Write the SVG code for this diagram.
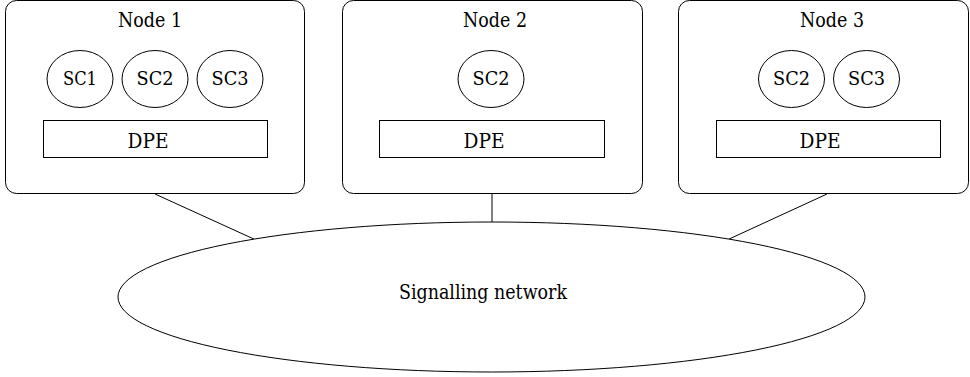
<svg xmlns="http://www.w3.org/2000/svg" width="970" height="377" viewBox="0 0 970 377">
<style>
.box{fill:#fff;stroke:#000;stroke-width:1}
.sc{fill:#fff;stroke:#000;stroke-width:1}
.dpe{fill:#fff;stroke:#000;stroke-width:1}
.con{stroke:#000;stroke-width:1;fill:none}
</style>
<rect x="0" y="0" width="970" height="377" fill="#fff"/>
<g id="connectors">
<line class="con" x1="155" y1="194" x2="256" y2="240"/>
<line class="con" x1="492" y1="194" x2="492" y2="222"/>
<line class="con" x1="827" y1="194" x2="727" y2="240"/>
</g>
<g font-family="'DejaVu Serif', serif" fill="#000" text-anchor="middle" lengthAdjust="spacingAndGlyphs">
<g id="node1">
<rect class="box" x="5.5" y="0.5" width="299" height="193" rx="11"/>
<text font-size="20" x="150" y="27" textLength="64" lengthAdjust="spacingAndGlyphs">Node 1</text>
<ellipse class="sc" cx="80" cy="79" rx="33" ry="28.5"/>
<text font-size="19" x="80" y="85" textLength="34" lengthAdjust="spacingAndGlyphs">SC1</text>
<ellipse class="sc" cx="155" cy="79" rx="33" ry="28.5"/>
<text font-size="19" x="155" y="85" textLength="37" lengthAdjust="spacingAndGlyphs">SC2</text>
<ellipse class="sc" cx="230" cy="79" rx="33" ry="28.5"/>
<text font-size="19" x="230" y="85" textLength="37" lengthAdjust="spacingAndGlyphs">SC3</text>
<rect class="dpe" x="43.5" y="120.5" width="224" height="37"/>
<text font-size="20" x="148" y="148" textLength="41" lengthAdjust="spacingAndGlyphs">DPE</text>
</g>
<g id="node2">
<rect class="box" x="342.5" y="0.5" width="300" height="193" rx="11"/>
<text font-size="20" x="495" y="27" textLength="64" lengthAdjust="spacingAndGlyphs">Node 2</text>
<ellipse class="sc" cx="491" cy="79" rx="33" ry="28.5"/>
<text font-size="19" x="491" y="85" textLength="37" lengthAdjust="spacingAndGlyphs">SC2</text>
<rect class="dpe" x="379.5" y="120.5" width="225" height="37"/>
<text font-size="20" x="484" y="148" textLength="41" lengthAdjust="spacingAndGlyphs">DPE</text>
</g>
<g id="node3">
<rect class="box" x="678.5" y="0.5" width="290" height="193" rx="11"/>
<text font-size="20" x="832" y="27" textLength="64" lengthAdjust="spacingAndGlyphs">Node 3</text>
<ellipse class="sc" cx="791.5" cy="79" rx="33" ry="28.5"/>
<text font-size="19" x="791.5" y="85" textLength="37" lengthAdjust="spacingAndGlyphs">SC2</text>
<ellipse class="sc" cx="866.5" cy="79" rx="33" ry="28.5"/>
<text font-size="19" x="866.5" y="85" textLength="37" lengthAdjust="spacingAndGlyphs">SC3</text>
<rect class="dpe" x="716.5" y="120.5" width="224" height="37"/>
<text font-size="20" x="820" y="148" textLength="41" lengthAdjust="spacingAndGlyphs">DPE</text>
</g>
<g id="network">
<ellipse class="sc" cx="491.5" cy="297" rx="373.5" ry="75"/>
<text font-size="20" x="483" y="299" textLength="168" lengthAdjust="spacingAndGlyphs">Signalling network</text>
</g>
</g>
</svg>
